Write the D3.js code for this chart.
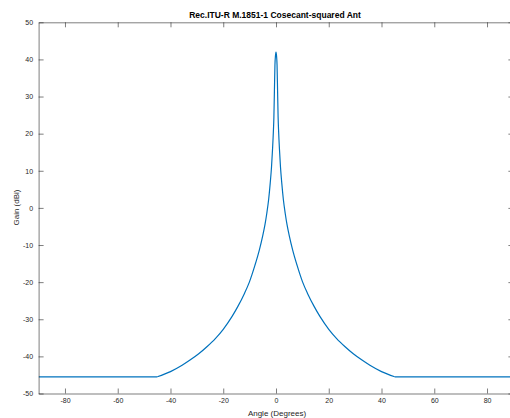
<!DOCTYPE html>
<html>
<head>
<meta charset="utf-8">
<script src="https://cdn.jsdelivr.net/npm/d3@7"></script>
<style>
  body { margin: 0; background: #fff; }
  text { font-family: "Liberation Sans", Arial, sans-serif; fill: #262626; }
  .axis path, .axis line { stroke: #262626; stroke-width: 0.6; }
  .axis text { font-size: 7px; }
</style>
</head>
<body>
<div id="chart"></div>
<script>
// angle (deg) and gain (dBi), main part of the pattern
var angles = [-45, -40, -35.6, -32.6, -29.3, -26.2, -23, -20, -16.7, -14.5, -12, -10.1, -8, -6.3, -5, -4.2, -3.5, -2.8, -2.2, -1.7, -1.33, -1, -0.8, -0.6, -0.4, -0.2,
  0, 0.2, 0.4, 0.6, 0.8, 1, 1.33, 1.7, 2.2, 2.8, 3.5, 4.2, 5, 6.3, 8, 10.1, 12, 14.5, 16.7, 20, 23, 26.2, 29.3, 32.6, 35.6, 40, 45]
var gains = [-45.5, -44.1, -42.4, -41, -39.3, -37.4, -35.2, -32.7, -29.3, -26.6, -23.1, -20, -15.5, -11.3, -7.4, -4.6, -1.5, 2.2, 6.6, 11, 15.6, 20.5, 24.5, 31.5, 38.5, 41,
  42, 41, 38.5, 31.5, 24.5, 20.5, 15.6, 11, 6.6, 2.2, -1.5, -4.6, -7.4, -11.3, -15.5, -20, -23.1, -26.6, -29.3, -32.7, -35.2, -37.4, -39.3, -41, -42.4, -44.1, -45.5]
// far sidelobe floor
var floorAngles = [[-90, -45], [45, 90]]
var floorGain = -45.5
var xTicks = [-80, -60, -40, -20, 0, 20, 40, 60, 80]
var yTicks = [-50, -40, -30, -20, -10, 0, 10, 20, 30, 40, 50]

var W = 510, H = 418
var margin = {top: 22.3, right: -3.4, bottom: 24.5, left: 38.6},
  width = W - margin.left - margin.right,
  height = H - margin.top - margin.bottom;

var svg = d3.select("#chart").append("svg")
  .attr("width", W)
  .attr("height", H)

var g = svg.append("g")
  .attr("transform", "translate(" + margin.left + "," + margin.top + ")")

var x = d3.scaleLinear().domain([-90, 90]).range([0, width])
var y = d3.scaleLinear().domain([-50, 50]).range([height, 0])

g.append("clipPath").attr("id", "clip")
  .append("rect").attr("width", width).attr("height", height)

var line = d3.line()
  .x(d => x(d[0]))
  .y(d => y(d[1]))

var pts = angles.map((a, i) => [a, gains[i]])

g.append("path")
  .datum(pts)
  .attr("clip-path", "url(#clip)")
  .attr("fill", "none")
  .attr("stroke", "#0072BD")
  .attr("stroke-width", 1.2)
  .attr("d", line.curve(d3.curveMonotoneX))

g.selectAll(".floor")
  .data(floorAngles)
  .enter().append("path")
  .attr("class", "floor")
  .attr("clip-path", "url(#clip)")
  .attr("fill", "none")
  .attr("stroke", "#0072BD")
  .attr("stroke-width", 1.2)
  .attr("d", d => d3.line().x(p => x(p[0])).y(p => y(p[1]))(d.map(a => [a, floorGain])))

g.append("g").attr("class", "axis")
  .attr("transform", "translate(0," + height + ")")
  .call(d3.axisBottom(x).tickValues(xTicks).tickSizeInner(-5).tickSizeOuter(0).tickPadding(5))

g.append("g").attr("class", "axis")
  .call(d3.axisTop(x).tickValues(xTicks).tickSizeInner(-5).tickSizeOuter(0).tickFormat(""))

g.append("g").attr("class", "axis")
  .call(d3.axisLeft(y).tickValues(yTicks).tickSizeInner(-5).tickSizeOuter(0).tickPadding(5.5))

g.append("g").attr("class", "axis")
  .attr("transform", "translate(" + width + ",0)")
  .call(d3.axisRight(y).tickValues(yTicks).tickSizeInner(-5).tickSizeOuter(0).tickFormat(""))

// minus sign as hyphen like the original
g.selectAll(".axis text").text(function() { return this.textContent.replace("\u2212", "-") })

svg.append("text")
  .attr("x", 275)
  .attr("y", 18)
  .attr("text-anchor", "middle")
  .style("font-size", "8.5px")
  .style("font-weight", "bold")
  .style("fill", "#000")
  .text("Rec.ITU-R M.1851-1 Cosecant-squared Ant")

svg.append("text")
  .attr("x", 277)
  .attr("y", 415.5)
  .attr("text-anchor", "middle")
  .style("font-size", "8px")
  .text("Angle (Degrees)")

svg.append("text")
  .attr("transform", "translate(19,207.5) rotate(-90)")
  .attr("text-anchor", "middle")
  .style("font-size", "8px")
  .text("Gain (dBi)")
</script>
</body>
</html>
